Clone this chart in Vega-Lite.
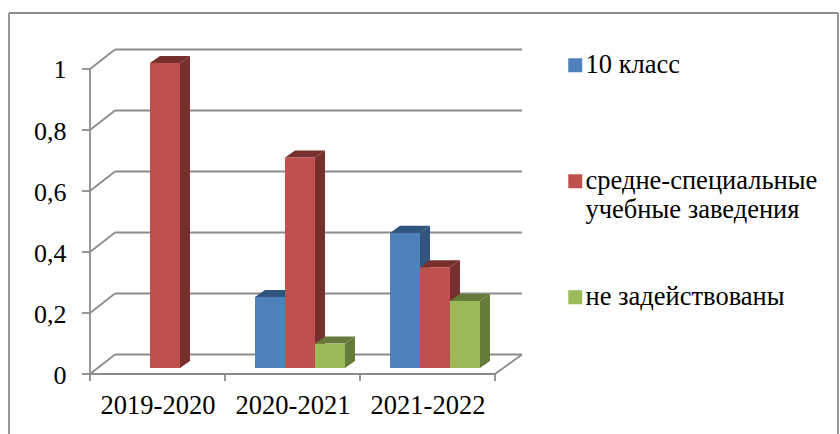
{
"$schema":"https://vega.github.io/schema/vega-lite/v6.json",
"width":829,"height":421,
"autosize":{"type":"none"},
"padding":{"left":9,"top":13,"right":2,"bottom":0},
"background":"white",
"config":{"view":{"stroke":null},"font":"Liberation Serif"},
"datasets":{
"bars":[
{"year":"2019-2020","g":0,"series":"средне-специальные учебные заведения","slot":1,"value":1},
{"year":"2020-2021","g":1,"series":"10 класс","slot":0,"value":0.233},
{"year":"2020-2021","g":1,"series":"средне-специальные учебные заведения","slot":1,"value":0.69},
{"year":"2020-2021","g":1,"series":"не задействованы","slot":2,"value":0.08},
{"year":"2021-2022","g":2,"series":"10 класс","slot":0,"value":0.443},
{"year":"2021-2022","g":2,"series":"средне-специальные учебные заведения","slot":1,"value":0.33},
{"year":"2021-2022","g":2,"series":"не задействованы","slot":2,"value":0.22}
],
"levels":[{"level":0},{"level":0.2},{"level":0.4},{"level":0.6},{"level":0.8},{"level":1}],
"cats":[{"g":0},{"g":1},{"g":2},{"g":3}],
"frame":[{"l":-0.6,"r":5.5407,"t":1.1836,"b":-0.1967}]
},
"layer":[
{"data":{"name":"frame"},"layer":[
{"mark":{"type":"rule","color":"#8c8c8c","strokeWidth":1.8},
 "encoding":{"x":{"field":"l","type":"quantitative","scale":{"domain":[-0.6,5.5407],"nice":false,"zero":false},"axis":null},"x2":{"field":"r"},"y":{"field":"t","type":"quantitative","scale":{"domain":[-0.1967,1.1836],"nice":false,"zero":false},"axis":null}}},
{"mark":{"type":"rule","color":"#8c8c8c","strokeWidth":1.8},
 "encoding":{"x":{"field":"l","type":"quantitative","axis":null},"y":{"field":"t","type":"quantitative","axis":null},"y2":{"field":"b"}}},
{"mark":{"type":"rule","color":"#8c8c8c","strokeWidth":1.8},
 "encoding":{"x":{"field":"r","type":"quantitative","axis":null},"y":{"field":"t","type":"quantitative","axis":null},"y2":{"field":"b"}}}
]},
{"data":{"name":"levels"},
 "transform":[{"calculate":"datum.level+0.064","as":"back"},{"calculate":"0.185","as":"bx"},{"calculate":"3.2","as":"ex"},{"calculate":"0","as":"fx"},{"calculate":"-8/135","as":"tx"}],
 "layer":[
 {"mark":{"type":"rule","color":"#8c8c8c","strokeWidth":1.8},
  "encoding":{"x":{"field":"fx","type":"quantitative","axis":null},"x2":{"field":"bx"},"y":{"field":"level","type":"quantitative","axis":null},"y2":{"field":"back"}}},
 {"mark":{"type":"rule","color":"#8c8c8c","strokeWidth":1.8},
  "encoding":{"x":{"field":"bx","type":"quantitative","axis":null},"x2":{"field":"ex"},"y":{"field":"back","type":"quantitative","axis":null}}},
 {"mark":{"type":"rule","color":"#8c8c8c","strokeWidth":1.8},
  "encoding":{"x":{"field":"tx","type":"quantitative","axis":null},"x2":{"field":"fx"},"y":{"field":"level","type":"quantitative","axis":null}}}
 ]},
{"data":{"name":"cats"},
 "transform":[{"calculate":"-7/305","as":"low"},{"calculate":"0","as":"zero"},{"calculate":"1","as":"one"},{"calculate":"3","as":"end"},{"calculate":"datum.g==3?3.2:datum.g","as":"gx2"},{"calculate":"datum.g==3?0.064:0","as":"gy2"}],
 "layer":[
 {"mark":{"type":"rule","color":"#8c8c8c","strokeWidth":1.8},
  "encoding":{"x":{"field":"g","type":"quantitative","axis":null},"y":{"field":"low","type":"quantitative","axis":null},"y2":{"field":"zero"}}},
 {"mark":{"type":"rule","color":"#8c8c8c","strokeWidth":1.8},
  "encoding":{"x":{"field":"g","type":"quantitative","axis":null},"x2":{"field":"gx2"},"y":{"field":"zero","type":"quantitative","axis":null},"y2":{"field":"gy2"}}},
 {"transform":[{"filter":"datum.g==0"}],"mark":{"type":"rule","color":"#8c8c8c","strokeWidth":1.8},
  "encoding":{"x":{"field":"zero","type":"quantitative","axis":null},"x2":{"field":"end"},"y":{"field":"zero","type":"quantitative","axis":null}}},
 {"transform":[{"filter":"datum.g==0"}],"mark":{"type":"rule","color":"#8c8c8c","strokeWidth":1.8},
  "encoding":{"x":{"field":"zero","type":"quantitative","axis":null},"y":{"field":"zero","type":"quantitative","axis":null},"y2":{"field":"one"}}}
 ]},
{"data":{"name":"bars"},
 "transform":[
  {"calculate":"datum.g+0.2222+datum.slot*0.2222","as":"x0"},
  {"calculate":"datum.x0+0.2222","as":"x1"},
  {"calculate":"0.0197","as":"base"},
  {"calculate":"datum.value+0.0197","as":"top"},
  {"calculate":"0","as":"t0"},{"calculate":"1","as":"t1"},
  {"fold":["t0","t1"],"as":["k","t"]},
  {"calculate":"datum.x1+datum.t*0.074","as":"sx"},
  {"calculate":"datum.top+datum.t*0.023","as":"sy"},
  {"calculate":"datum.base+datum.t*0.023","as":"sy2"},
  {"calculate":"datum.x0+datum.t*0.074","as":"tx0"},
  {"calculate":"datum.x1+datum.t*0.074","as":"tx1"}
 ],
 "layer":[
 {"mark":{"type":"area","interpolate":"linear"},
  "encoding":{"x":{"field":"sx","type":"quantitative","axis":null},"y":{"field":"sy","type":"quantitative","axis":null,"stack":null},"y2":{"field":"sy2"},
   "detail":{"field":"year"},
   "color":{"field":"series","type":"nominal","legend":null,"scale":{"domain":["10 класс","средне-специальные учебные заведения","не задействованы"],"range":["#31557f","#772f2d","#667b3a"]}}}},
 {"mark":{"type":"area","orient":"horizontal","interpolate":"linear"},
  "encoding":{"y":{"field":"sy","type":"quantitative","axis":null},"x":{"field":"tx0","type":"quantitative","axis":null,"stack":null},"x2":{"field":"tx1"},
   "detail":{"field":"year"},
   "color":{"field":"series","type":"nominal","legend":null,"scale":{"domain":["10 класс","средне-специальные учебные заведения","не задействованы"],"range":["#3d6696","#933a38","#799344"]}}}}
 ]},
{"data":{"name":"bars"},
 "transform":[
  {"calculate":"datum.g+0.2222+datum.slot*0.2222","as":"x0"},
  {"calculate":"datum.x0+0.2222","as":"x1"},
  {"calculate":"0.0197","as":"base"},
  {"calculate":"datum.value+0.0197","as":"top"}
 ],
 "mark":{"type":"rect"},
 "encoding":{
  "x":{"field":"x0","type":"quantitative","axis":{"title":null,"values":[0.5,1.5,2.5],"labelExpr":"datum.value==0.5?'2019-2020':datum.value==1.5?'2020-2021':'2021-2022'","offset":-60,"domain":false,"ticks":false,"grid":false,"labelFontSize":26.5,"labelColor":"#000","labelFont":"Liberation Serif","labelPadding":18,"labelFlush":false}},
  "x2":{"field":"x1"},
  "y":{"field":"top","type":"quantitative","axis":{"title":null,"values":[0,0.2,0.4,0.6,0.8,1],"labelExpr":"replace(datum.label,'.',',')","format":"~g","offset":-81,"domain":false,"ticks":false,"grid":false,"labelFontSize":26,"labelColor":"#000","labelFont":"Liberation Serif","labelPadding":24,"labelOffset":1}},
  "y2":{"field":"base"},
  "color":{"field":"series","type":"nominal",
   "scale":{"domain":["10 класс","средне-специальные учебные заведения","не задействованы"],"range":["#4f81bd","#c0504d","#9bbb59"]},
   "legend":{"title":null,"orient":"none","legendX":553,"legendY":39,"symbolType":"square","symbolSize":196,"symbolStrokeWidth":0,"symbolOpacity":1,"labelFont":"Liberation Serif","labelFontSize":26.5,"labelColor":"#000","labelLimit":300,"labelOffset":-3,"rowPadding":60,"gridAlign":"all","labelExpr":"datum.label=='средне-специальные учебные заведения'?['средне-специальные','учебные заведения']:datum.label","encoding":{"labels":{"update":{"lineHeight":{"value":32}}}}}}
 }}
],
"resolve":{"scale":{"color":"independent"},"axis":{"x":"independent","y":"independent"}}
}
